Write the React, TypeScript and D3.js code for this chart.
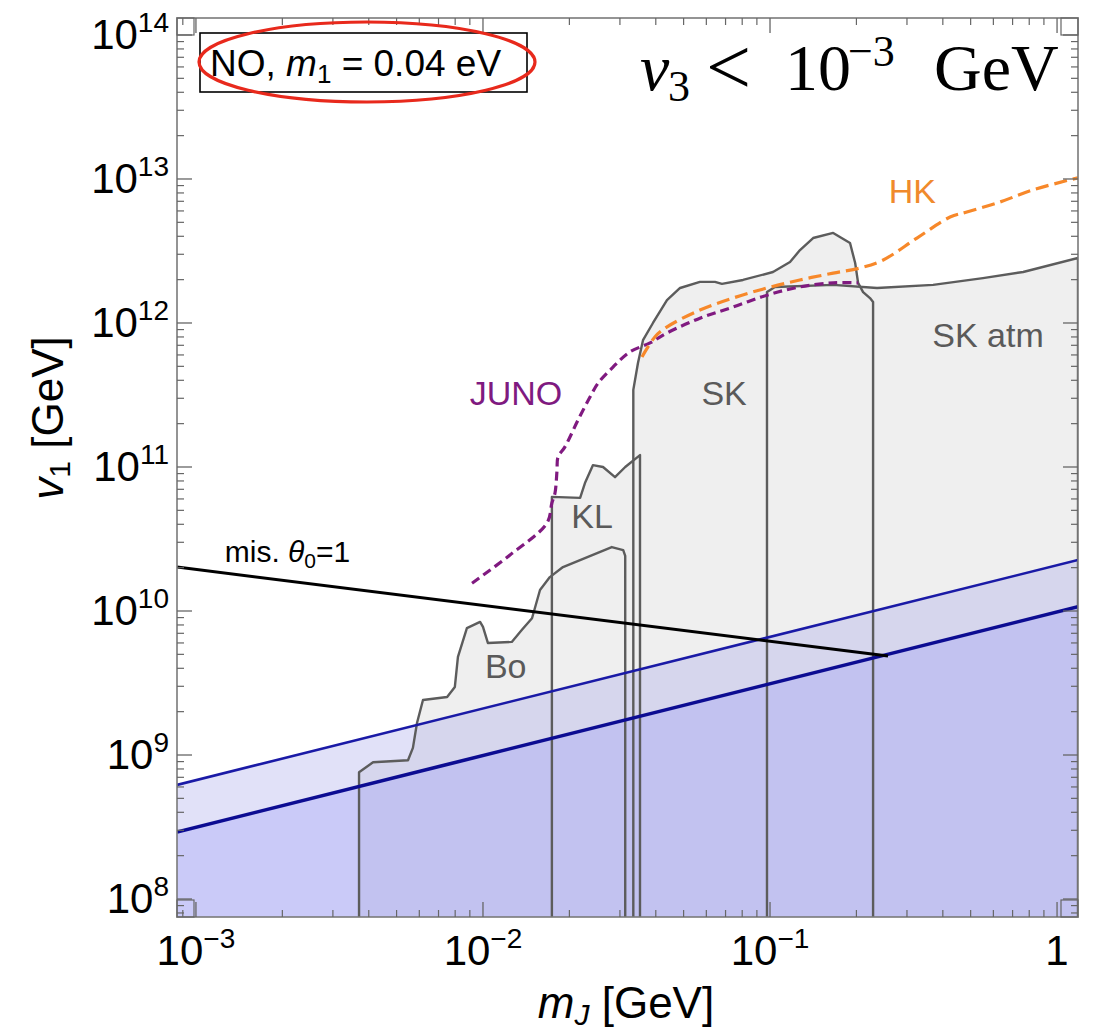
import * as d3 from 'd3';

// chart values (mJ in GeV, v1 in GeV)
const X_DOMAIN: [number, number] = [8.59e-4, 1.183];
const Y_DOMAIN: [number, number] = [7.5e7, 1.312e14];
const FLOOR = 5e7;

const xMajor = [1e-3, 1e-2, 1e-1, 1];
const xMajorLabels = [['10', '−3'], ['10', '−2'], ['10', '−1'], ['1', '']];
const yMajor = [1e8, 1e9, 1e10, 1e11, 1e12, 1e13, 1e14];
const yMajorLabels = ['8', '9', '10', '11', '12', '13', '14'];

const boRegion: [number, number][] = [
  [0.0037, FLOOR], [0.0037, 7.6e8], [0.00414, 8.9e8], [0.00548, 9.2e8], [0.0057, 1.12e9],
  [0.00589, 1.67e9], [0.00618, 2.41e9], [0.0075, 2.53e9], [0.00798, 2.97e9], [0.00818, 4.8e9],
  [0.00879, 7.6e9], [0.00977, 8.4e9], [0.01, 7.75e9], [0.0104, 6.0e9], [0.0126, 6.1e9],
  [0.01367, 7.4e9], [0.01482, 8.9e9], [0.0158, 1.4e10], [0.0171, 1.72e10], [0.019, 2.02e10],
  [0.0281, 2.78e10], [0.0308, 2.65e10], [0.0313, 2.41e10], [0.0313, FLOOR],
];

const klRegion: [number, number][] = [
  [0.01738, FLOOR], [0.01738, 6.2e10], [0.0218, 6.1e10], [0.02266, 7.74e10], [0.02415, 1.03e11],
  [0.0262, 1.0e11], [0.02884, 8.5e10], [0.0313, 1.0e11], [0.03524, 1.21e11], [0.03524, FLOOR],
];

const skRegion: [number, number][] = [
  [0.0334, FLOOR], [0.0334, 3.43e11], [0.03467, 5.28e11], [0.0361, 7.6e11], [0.0391, 1.0e12],
  [0.04375, 1.44e12], [0.0486, 1.75e12], [0.057, 1.93e12], [0.0643, 1.93e12], [0.068, 1.87e12],
  [0.0805, 1.99e12], [0.1024, 2.26e12], [0.1174, 2.65e12], [0.1272, 3.21e12], [0.1413, 3.89e12],
  [0.166, 4.22e12], [0.19, 3.59e12], [0.198, 2.61e12], [0.2027, 1.9e12], [0.211, 1.64e12],
  [0.223, 1.49e12], [0.2286, 1.4e12], [0.2286, FLOOR],
];

const skAtmRegion: [number, number][] = [
  [0.0976, FLOOR], [0.0976, 1.64e12], [0.104, 1.78e12], [0.166, 1.84e12], [0.236, 1.75e12],
  [0.37, 1.84e12], [0.552, 2.05e12], [0.762, 2.26e12], [1.183, 2.83e12], [1.183, FLOOR],
];

const junoCurve: [number, number][] = [
  [0.00916, 1.56e10], [0.01242, 2.45e10], [0.01671, 4.08e10], [0.01738, 5.62e10], [0.01782, 6.6e10],
  [0.01811, 9.5e10], [0.01825, 1.17e11], [0.0193, 1.38e11], [0.02144, 2.12e11], [0.0236, 3.06e11],
  [0.0252, 3.83e11], [0.02838, 4.94e11], [0.0325, 6.3e11], [0.0382, 7.27e11], [0.0438, 8.53e11],
  [0.057, 1.08e12], [0.0743, 1.29e12], [0.0976, 1.56e12], [0.127, 1.78e12], [0.166, 1.9e12],
  [0.203, 1.9e12],
];

const hkCurve: [number, number][] = [
  [0.0358, 5.81e11], [0.0397, 8.0e11], [0.0438, 9.4e11], [0.057, 1.23e12], [0.0743, 1.49e12],
  [0.0976, 1.75e12], [0.127, 1.99e12], [0.166, 2.22e12], [0.206, 2.41e12], [0.248, 2.74e12],
  [0.325, 3.89e12], [0.424, 5.44e12], [0.485, 5.9e12], [0.632, 6.92e12], [0.824, 8.4e12],
  [1.183, 1.02e13],
];

const upperBlue: [number, number][] = [[8.59e-4, 6.2e8], [1.183, 2.26e10]];
const lowerBlue: [number, number][] = [[8.59e-4, 2.92e8], [1.183, 1.07e10]];
const misalignLine: [number, number][] = [[8.59e-4, 2.02e10], [0.2576, 4.87e9]];

const regionLabels = [
  { text: 'HK', m: 0.313, v: 6.8e12, color: '#f08a2c' },
  { text: 'JUNO', m: 0.01303, v: 2.7e11, color: '#7f1a80' },
  { text: 'SK', m: 0.0692, v: 2.7e11, color: '#5a5a5a' },
  { text: 'SK atm', m: 0.575, v: 6.8e11, color: '#5a5a5a' },
  { text: 'KL', m: 0.024, v: 3.77e10, color: '#5a5a5a' },
  { text: 'Bo', m: 0.012, v: 3.43e9, color: '#5a5a5a' },
];

const W = 1094;
const H = 1035;
const left = 177, right = 1078, top = 18, bottom = 917;
const SANS = '"Liberation Sans", Arial, Helvetica, sans-serif';
const SERIF = '"Liberation Serif", "Times New Roman", serif';

export default function App() {
  const x = d3.scaleLog().domain(X_DOMAIN).range([left, right]);
  const y = d3.scaleLog().domain(Y_DOMAIN).range([bottom, top]);
  const line = d3.line<[number, number]>().x(d => x(d[0])).y(d => y(d[1]));
  const smooth = d3.line<[number, number]>().x(d => x(d[0])).y(d => y(d[1])).curve(d3.curveCatmullRom.alpha(0.5));

  const regions = [boRegion, klRegion, skRegion, skAtmRegion];

  const band = (l: [number, number][]): [number, number][] =>
    [l[0], l[1], [l[1][0], FLOOR], [l[0][0], FLOOR]];

  // minor ticks
  const xMinor: number[] = [];
  for (let e = -4; e <= 0; e++) for (let k = 2; k <= 9; k++) {
    const val = k * 10 ** e;
    if (val > X_DOMAIN[0] && val < X_DOMAIN[1]) xMinor.push(val);
  }
  const yMinor: number[] = [];
  for (let e = 7; e <= 14; e++) for (let k = 2; k <= 9; k++) {
    const val = k * 10 ** e;
    if (val > Y_DOMAIN[0] && val < Y_DOMAIN[1]) yMinor.push(val);
  }

  const tickColor = '#666';
  const sq = 17;

  return (
    <svg width={W} height={H} style={{ position: 'absolute', left: 0, top: 0, background: '#fff' }}>
      <defs>
        <clipPath id="plot">
          <rect x={left} y={top} width={right - left} height={bottom - top} />
        </clipPath>
      </defs>

      <g clipPath="url(#plot)">
        {regions.map((r, i) => (
          <path key={'f' + i} d={line(r) + 'Z'} fill="#efefef" stroke="none" />
        ))}
        <path d={line(band(upperBlue)) + 'Z'} fill="rgb(170,170,235)" fillOpacity={0.35} />
        <path d={line(band(lowerBlue)) + 'Z'} fill="rgb(150,150,250)" fillOpacity={0.3} />
        {regions.map((r, i) => (
          <path key={'o' + i} d={line(r) ?? ''} fill="none" stroke="#5c5c5c" strokeWidth={2.4} strokeLinejoin="round" />
        ))}
        <path d={line(upperBlue) ?? ''} stroke="#1a1aa6" strokeWidth={2.6} fill="none" />
        <path d={line(lowerBlue) ?? ''} stroke="#0c0c92" strokeWidth={3.6} fill="none" />
        <path d={line(misalignLine) ?? ''} stroke="#000" strokeWidth={3} fill="none" />
        <path d={smooth(junoCurve) ?? ''} stroke="#801a80" strokeWidth={3.2} fill="none" strokeDasharray="9 5" />
        <path d={smooth(hkCurve) ?? ''} stroke="#f7882a" strokeWidth={3.2} fill="none" strokeDasharray="13 6" />
      </g>

      {regionLabels.map(l => (
        <text key={l.text} x={x(l.m)} y={y(l.v)} fill={l.color} fontFamily={SANS} fontSize={34} textAnchor="middle">
          {l.text}
        </text>
      ))}
      <text x={x(0.00126)} y={y(2.19e10)} fontFamily={SANS} fontSize={30} fill="#000">
        mis. <tspan fontStyle="italic">θ</tspan>
        <tspan fontSize={21} dy={6}>0</tspan>
        <tspan dy={-6}>=1</tspan>
      </text>

      {/* frame */}
      <rect x={left} y={top} width={right - left} height={bottom - top} fill="none" stroke="#7a7a7a" strokeWidth={1.6} />
      {[[left, top], [right - sq, top], [left, bottom - sq], [right - sq, bottom - sq]].map(([cx, cy], i) => (
        <rect key={'c' + i} x={cx} y={cy} width={sq} height={sq} fill="none" stroke={tickColor} strokeWidth={1.2} />
      ))}

      {xMajor.map(v => (
        <g key={'xm' + v} stroke={tickColor} strokeWidth={1.3}>
          <line x1={x(v)} x2={x(v)} y1={bottom} y2={bottom - 15} />
          <line x1={x(v)} x2={x(v)} y1={top} y2={top + 15} />
        </g>
      ))}
      {xMinor.map(v => (
        <g key={'xn' + v} stroke={tickColor} strokeWidth={1.2}>
          <line x1={x(v)} x2={x(v)} y1={bottom} y2={bottom - 7} />
          <line x1={x(v)} x2={x(v)} y1={top} y2={top + 7} />
        </g>
      ))}
      {yMajor.map(v => (
        <g key={'ym' + v} stroke={tickColor} strokeWidth={1.3}>
          <line x1={left} x2={left + 15} y1={y(v)} y2={y(v)} />
          <line x1={right} x2={right - 15} y1={y(v)} y2={y(v)} />
        </g>
      ))}
      {yMinor.map(v => (
        <g key={'yn' + v} stroke={tickColor} strokeWidth={1.2}>
          <line x1={left} x2={left + 7} y1={y(v)} y2={y(v)} />
          <line x1={right} x2={right - 7} y1={y(v)} y2={y(v)} />
        </g>
      ))}

      {/* tick labels */}
      {xMajor.map((v, i) => (
        <text key={'xl' + v} x={x(v)} y={965} textAnchor="middle" fontFamily={SANS} fontSize={42} fill="#000">
          {xMajorLabels[i][0]}
          {xMajorLabels[i][1] && <tspan fontSize={28} dy={-17}>{xMajorLabels[i][1]}</tspan>}
        </text>
      ))}
      {yMajor.map((v, i) => (
        <text key={'yl' + v} x={169} y={y(v) + 14} textAnchor="end" fontFamily={SANS} fontSize={42} fill="#000">
          10<tspan fontSize={28} dy={-17}>{yMajorLabels[i]}</tspan>
        </text>
      ))}

      {/* axis titles */}
      <text x={626} y={1018} textAnchor="middle" fontFamily={SANS} fontSize={44} fill="#000">
        <tspan fontStyle="italic">m</tspan>
        <tspan fontSize={30} dy={7} fontStyle="italic">J</tspan>
        <tspan dy={-7}> [GeV]</tspan>
      </text>
      <text transform="translate(63,418) rotate(-90)" textAnchor="middle" fontFamily={SANS} fontSize={44} fill="#000">
        <tspan fontStyle="italic">v</tspan>
        <tspan fontSize={30} dy={7}>1</tspan>
        <tspan dy={-7}> [GeV]</tspan>
      </text>

      {/* legend box */}
      <rect x={200} y={33} width={327} height={59} fill="#fff" stroke="#000" strokeWidth={1.6} />
      <text x={210} y={76} fontFamily={SANS} fontSize={37} fill="#000">
        NO, <tspan fontStyle="italic">m</tspan>
        <tspan fontSize={26} dy={7}>1</tspan>
        <tspan dy={-7}> = 0.04 eV</tspan>
      </text>
      <ellipse cx={367} cy={62} rx={168} ry={40} fill="none" stroke="#e8291c" strokeWidth={3.2} />

      {/* v3 constraint */}
      <text fontFamily={SERIF} fill="#000">
        <tspan x={640} y={90} fontSize={66} fontStyle="italic">v</tspan>
        <tspan x={668} y={101} fontSize={44}>3</tspan>
        <tspan x={706} y={94} fontSize={80}>&lt;</tspan>
        <tspan x={785} y={90} fontSize={66}>10</tspan>
        <tspan x={848} y={66} fontSize={44}>−3</tspan>
        <tspan x={934} y={90} fontSize={66}>GeV</tspan>
      </text>
    </svg>
  );
}
